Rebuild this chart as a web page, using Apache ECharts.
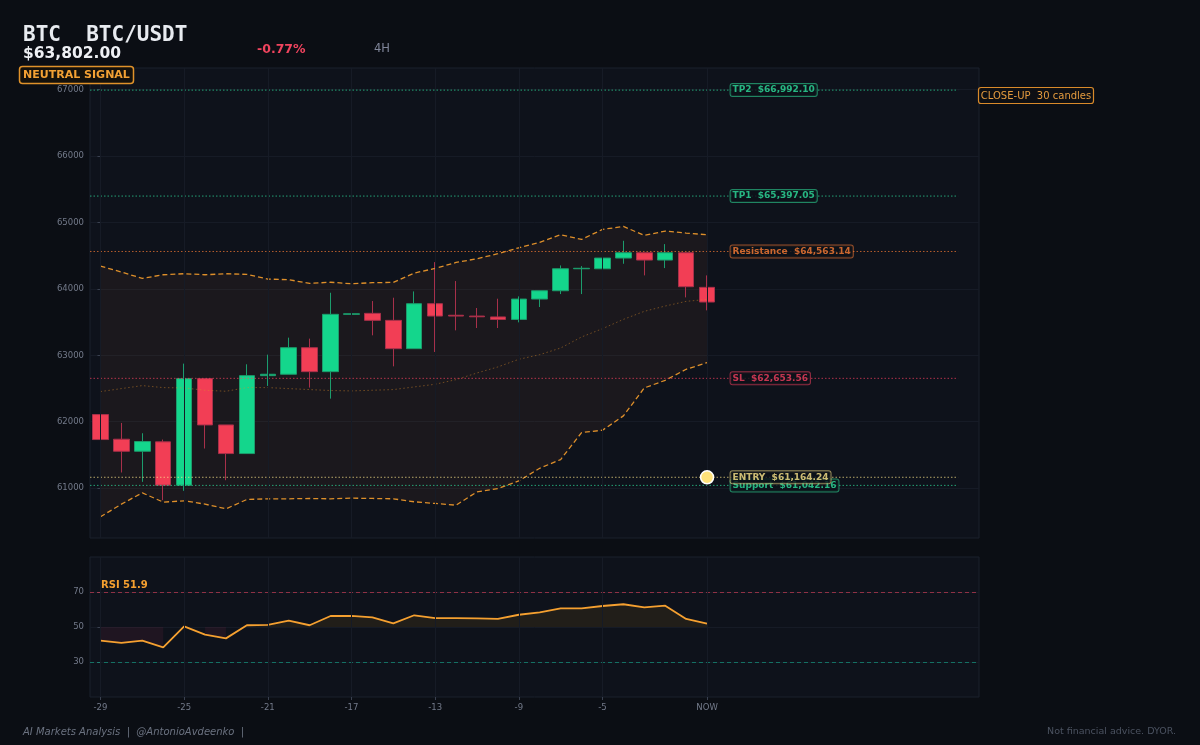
<!DOCTYPE html>
<html lang="en">
<head>
<meta charset="UTF-8"/>
<title>BTC/USDT 4H</title>
<script src="https://cdn.jsdelivr.net/npm/echarts@6/dist/echarts.min.js"></script>
<style>
  html, body { margin: 0; padding: 0; background: #0b0e14; }
  #main { width: 1200px; height: 745px; }
</style>
</head>
<body>
<div id="main"></div>
<script type="text/javascript">
// x ticks (candle index) and their labels
var xTickIdx = [0, 4, 8, 12, 16, 20, 24, 29];
var xTickLabels = ['-29', '-25', '-21', '-17', '-13', '-9', '-5', 'NOW'];
var priceTicks = [61000, 62000, 63000, 64000, 65000, 66000, 67000];
var rsiTicks = [30, 50, 70];

// 30 candles, 4H
var open  = [62108, 61737, 61556, 61697, 61045, 62649, 61952, 61521, 62694, 62715, 63115, 62754, 63617, 63632, 63526,
             63100, 63777, 63603, 63591, 63578, 63540, 63847, 63972, 64303, 64303, 64464, 64544, 64434, 64544, 64023];
var close = [61732, 61556, 61702, 61045, 62649, 61952, 61521, 62694, 62715, 63115, 62754, 63617, 63625, 63526, 63100,
             63777, 63591, 63591, 63580, 63540, 63847, 63972, 64303, 64310, 64464, 64544, 64434, 64544, 64033, 63802];
var high  = [62283, 61982, 61827, 61732, 62875, 62649, 61952, 62865, 63010, 63266, 63251, 63942, 63712, 63817, 63867,
             63962, 64403, 64118, 63712, 63852, 63887, 63972, 64353, 64343, 64764, 64724, 64544, 64674, 64544, 64203];
var low   = [61546, 61236, 61095, 60820, 60960, 61597, 61120, 61521, 62539, 62715, 62514, 62348, 63276, 63301, 62834,
             63100, 63050, 63376, 63411, 63411, 63496, 63727, 63922, 63922, 64213, 64378, 64203, 64313, 63872, 63677];

// bollinger bands
var upper = [64343, 64253, 64158, 64213, 64228, 64213, 64228, 64218, 64148, 64138, 64083, 64100, 64078, 64093, 64098,
             64238, 64308, 64398, 64454, 64529, 64619, 64700, 64815, 64744, 64895, 64940, 64805, 64870, 64840, 64815];
var mid   = [62454, 62499, 62544, 62514, 62509, 62474, 62459, 62514, 62514, 62499, 62484, 62470, 62464, 62474, 62484,
             62524, 62564, 62634, 62734, 62825, 62940, 63010, 63110, 63276, 63401, 63541, 63662, 63742, 63812, 63842];
var lower = [60569, 60759, 60930, 60790, 60810, 60759, 60689, 60830, 60840, 60840, 60845, 60840, 60850, 60845, 60840,
             60795, 60770, 60744, 60945, 60995, 61110, 61300, 61431, 61837, 61872, 62088, 62509, 62624, 62790, 62890];

var rsi = [42.2, 40.9, 42.2, 38.4, 50.4, 45.6, 43.5, 51.0, 51.2, 53.6, 51.0, 56.3, 56.3, 55.5, 52.1,
           56.7, 55.1, 55.1, 54.9, 54.6, 57.0, 58.4, 60.7, 60.7, 62.0, 63.0, 61.2, 62.2, 54.6, 51.9];

// trade levels (support first so the entry tag sits on top)
var levelNames  = ['Support', 'ENTRY', 'SL', 'Resistance', 'TP1', 'TP2'];
var levelValues = [61042.16, 61164.24, 62653.56, 64563.14, 65397.05, 66992.10];
var levelColors = ['#2ee09c', '#fde68a', '#f4405f', '#fb7d35', '#2ee09c', '#2ee09c'];

var entryPrice = 61164.24;
var changePct = '-0.77%';

function money(v) {
    return '$' + v.toLocaleString('en-US', {minimumFractionDigits: 2, maximumFractionDigits: 2});
}
function fade(hex, a) {
    var n = parseInt(hex.slice(1), 16);
    return 'rgba(' + (n >> 16) + ',' + ((n >> 8) & 255) + ',' + (n & 255) + ',' + a + ')';
}

var myChart = echarts.init(document.getElementById('main'), null, {renderer: 'canvas'});

var axisFont = {color: '#737a8a', fontSize: 8.5, fontFamily: 'DejaVu Sans'};
var gridLine = '#161b26';

var candles = [];
for (var i = 0; i < open.length; i++) candles.push([i, open[i], close[i], low[i], high[i]]);

var series = [];

// band fill
series.push({
    type: 'custom', xAxisIndex: 0, yAxisIndex: 0, silent: true,
    data: [[0, upper[0]]],
    encode: {x: 0, y: 1},
    renderItem: function (params, api) {
        var pts = [];
        for (var a = 0; a < upper.length; a++) pts.push(api.coord([a, upper[a]]));
        for (var b = lower.length - 1; b >= 0; b--) pts.push(api.coord([b, lower[b]]));
        return {type: 'polygon', shape: {points: pts}, style: {fill: 'rgba(245,140,60,0.06)'}};
    }
});

series.push({
    name: 'mid', type: 'line', xAxisIndex: 0, yAxisIndex: 0, symbol: 'none', silent: true,
    data: mid.map(function (v, k) { return [k, v]; }),
    lineStyle: {color: 'rgba(220,140,40,0.45)', width: 1, type: [1.5, 2.5]},
    markLine: {
        silent: true, symbol: 'none', label: {show: false},
        lineStyle: {color: gridLine, type: 'solid', width: 1},
        data: xTickIdx.map(function (v) { return {xAxis: v}; })
    }
});
series.push({
    name: 'upper', type: 'line', xAxisIndex: 0, yAxisIndex: 0, symbol: 'none', silent: true,
    data: upper.map(function (v, k) { return [k, v]; }),
    lineStyle: {color: '#de8f2a', width: 1.3, type: [5, 3]}
});
series.push({
    name: 'lower', type: 'line', xAxisIndex: 0, yAxisIndex: 0, symbol: 'none', silent: true,
    data: lower.map(function (v, k) { return [k, v]; }),
    lineStyle: {color: '#de8f2a', width: 1.3, type: [5, 3]}
});

// level lines
levelValues.forEach(function (v, k) {
    series.push({
        type: 'line', xAxisIndex: 0, yAxisIndex: 0, symbol: 'none', silent: true,
        data: [[-0.5, v], [41, v]],
        lineStyle: {color: fade(levelColors[k], 0.7), width: 1, type: [1.5, 2]}
    });
});

series.push({
    name: 'BTC', type: 'candlestick', xAxisIndex: 0, yAxisIndex: 0,
    data: candles,
    encode: {x: 0, y: [1, 2, 3, 4]},
    barWidth: 16,
    itemStyle: {
        color: '#14d68c', color0: '#f23e55',
        borderColor: '#1c9c6c', borderColor0: '#a8304a', borderWidth: 1
    }
});

// level tags
series.push({
    type: 'scatter', xAxisIndex: 0, yAxisIndex: 0, symbolSize: 1, silent: true, z: 5,
    itemStyle: {color: 'transparent'},
    data: levelValues.map(function (v, k) {
        return {
            value: [30.1, v],
            label: {
                show: true, position: 'right', distance: 0,
                formatter: levelNames[k] + '\u00a0\u00a0' + money(v),
                color: levelColors[k], fontSize: 9, fontWeight: 'bold', fontFamily: 'DejaVu Sans',
                backgroundColor: '#0d1119', borderColor: fade(levelColors[k], 0.7), borderWidth: 1,
                borderRadius: 2, padding: [2, 2, 1, 2]
            }
        };
    })
});

series.push({
    type: 'scatter', xAxisIndex: 0, yAxisIndex: 0, silent: true, z: 6,
    data: [[open.length - 1, entryPrice]],
    symbolSize: 13,
    itemStyle: {color: '#ffe27a', borderColor: '#ffffff', borderWidth: 1.5, opacity: 1}
});

// RSI panel
series.push({
    type: 'line', xAxisIndex: 1, yAxisIndex: 1, symbol: 'none', silent: true,
    data: rsi.map(function (v, k) { return [k, v >= 50 ? v : '-']; }),
    lineStyle: {opacity: 0},
    areaStyle: {origin: 50, color: 'rgba(245,158,11,0.12)'}
});
series.push({
    type: 'line', xAxisIndex: 1, yAxisIndex: 1, symbol: 'none', silent: true,
    data: rsi.map(function (v, k) { return [k, v < 50 ? v : '-']; }),
    lineStyle: {opacity: 0},
    areaStyle: {origin: 50, color: 'rgba(225,60,110,0.12)'}
});
series.push({
    name: 'RSI', type: 'line', xAxisIndex: 1, yAxisIndex: 1, symbol: 'none', silent: true,
    data: rsi.map(function (v, k) { return [k, v]; }),
    lineStyle: {color: '#f5a030', width: 1.8},
    markLine: {
        silent: true, symbol: 'none', label: {show: false},
        data: [
            {yAxis: 70, lineStyle: {color: 'rgba(225,65,90,0.6)', type: [4, 3], width: 1.2}},
            {yAxis: 30, lineStyle: {color: 'rgba(20,170,140,0.6)', type: [4, 3], width: 1.2}}
        ].concat(xTickIdx.map(function (v) {
            return {xAxis: v, lineStyle: {color: gridLine, type: 'solid', width: 1}};
        }))
    }
});

var option = {
    backgroundColor: '#0b0e14',
    animation: false,
    textStyle: {fontFamily: 'DejaVu Sans'},
    grid: [
        {left: 90, right: 221, top: 68, height: 470, show: true, backgroundColor: '#0e121b', borderColor: '#1b202c', borderWidth: 1},
        {left: 90, right: 221, top: 557, height: 140, show: true, backgroundColor: '#0e121b', borderColor: '#1b202c', borderWidth: 1}
    ],
    xAxis: [
        {type: 'value', gridIndex: 0, min: -0.5, max: 42,
         axisLabel: {show: false}, axisTick: {show: false}, axisLine: {show: false}, splitLine: {show: false}},
        {type: 'value', gridIndex: 1, min: -0.5, max: 42,
         axisLine: {show: false}, splitLine: {show: false},
         axisTick: {show: true, customValues: xTickIdx, length: 3, lineStyle: {color: '#3a4150'}},
         axisLabel: {show: true, customValues: xTickIdx, margin: 6,
                     color: axisFont.color, fontSize: axisFont.fontSize, fontFamily: axisFont.fontFamily,
                     formatter: function (v) { return xTickLabels[xTickIdx.indexOf(v)]; }}}
    ],
    yAxis: [
        {type: 'value', gridIndex: 0, min: 60250, max: 67325, splitNumber: 7, scale: true,
         axisLine: {show: false},
         axisTick: {show: true, customValues: priceTicks, length: 3, lineStyle: {color: '#3a4150'}},
         axisLabel: {customValues: priceTicks, margin: 6, color: axisFont.color, fontSize: axisFont.fontSize, fontFamily: axisFont.fontFamily,
                     formatter: function (v) { return String(v); }},
         splitLine: {show: true, lineStyle: {color: gridLine, width: 1}}},
        {type: 'value', gridIndex: 1, min: 10, max: 90, interval: 20,
         axisLine: {show: false},
         axisTick: {show: true, customValues: rsiTicks, length: 3, lineStyle: {color: '#3a4150'}},
         axisLabel: {customValues: rsiTicks, margin: 6, color: axisFont.color, fontSize: axisFont.fontSize, fontFamily: axisFont.fontFamily},
         splitLine: {show: true, lineStyle: {color: gridLine, width: 1}}}
    ],
    graphic: [
        {type: 'text', x: 23, y: 36, style: {text: 'BTC  BTC/USDT', fill: '#e8ebf0', font: 'bold 21px "DejaVu Sans Mono"', verticalAlign: 'middle'}},
        {type: 'text', x: 23, y: 54, style: {text: money(close[close.length - 1]), fill: '#eef0f4', font: 'bold 15.5px "DejaVu Sans"', verticalAlign: 'middle'}},
        {type: 'text', x: 257, y: 50, style: {text: changePct, fill: '#f0445e', font: 'bold 12.5px "DejaVu Sans"', verticalAlign: 'middle'}},
        {type: 'text', x: 374, y: 49, style: {text: '4H', fill: '#80869a', font: '11.5px "DejaVu Sans"', verticalAlign: 'middle'}},
        {type: 'rect', shape: {x: 19.5, y: 66.5, width: 114, height: 17, r: 3}, style: {fill: '#14110c', stroke: '#e0922a', lineWidth: 1.5}, z: 10},
        {type: 'text', x: 76.5, y: 75.5, z: 11, style: {text: 'NEUTRAL SIGNAL', fill: '#f3a134', font: 'bold 11px "DejaVu Sans"', align: 'center', verticalAlign: 'middle'}},
        {type: 'rect', shape: {x: 978.5, y: 87.5, width: 115, height: 16, r: 2.5}, style: {fill: '#0d0f14', stroke: '#d98a2a', lineWidth: 1.2}, z: 10},
        {type: 'text', x: 1036, y: 96, z: 11, style: {text: 'CLOSE-UP  30 candles', fill: '#e39a3e', font: '10px "DejaVu Sans"', align: 'center', verticalAlign: 'middle'}},
        {type: 'text', x: 101, y: 585, z: 11, style: {text: 'RSI ' + rsi[rsi.length - 1].toFixed(1), fill: '#f5a030', font: 'bold 10px "DejaVu Sans"', verticalAlign: 'middle'}},
        {type: 'text', x: 23, y: 732, style: {text: 'AI Markets Analysis  |  @AntonioAvdeenko  |', fill: '#6b7280', font: 'italic 10px "DejaVu Sans"', verticalAlign: 'middle'}},
        {type: 'text', x: 1176, y: 732, style: {text: 'Not financial advice. DYOR.', fill: '#4b5260', font: '9.5px "DejaVu Sans"', align: 'right', verticalAlign: 'middle'}}
    ],
    series: series
};

myChart.setOption(option);
</script>
</body>
</html>
